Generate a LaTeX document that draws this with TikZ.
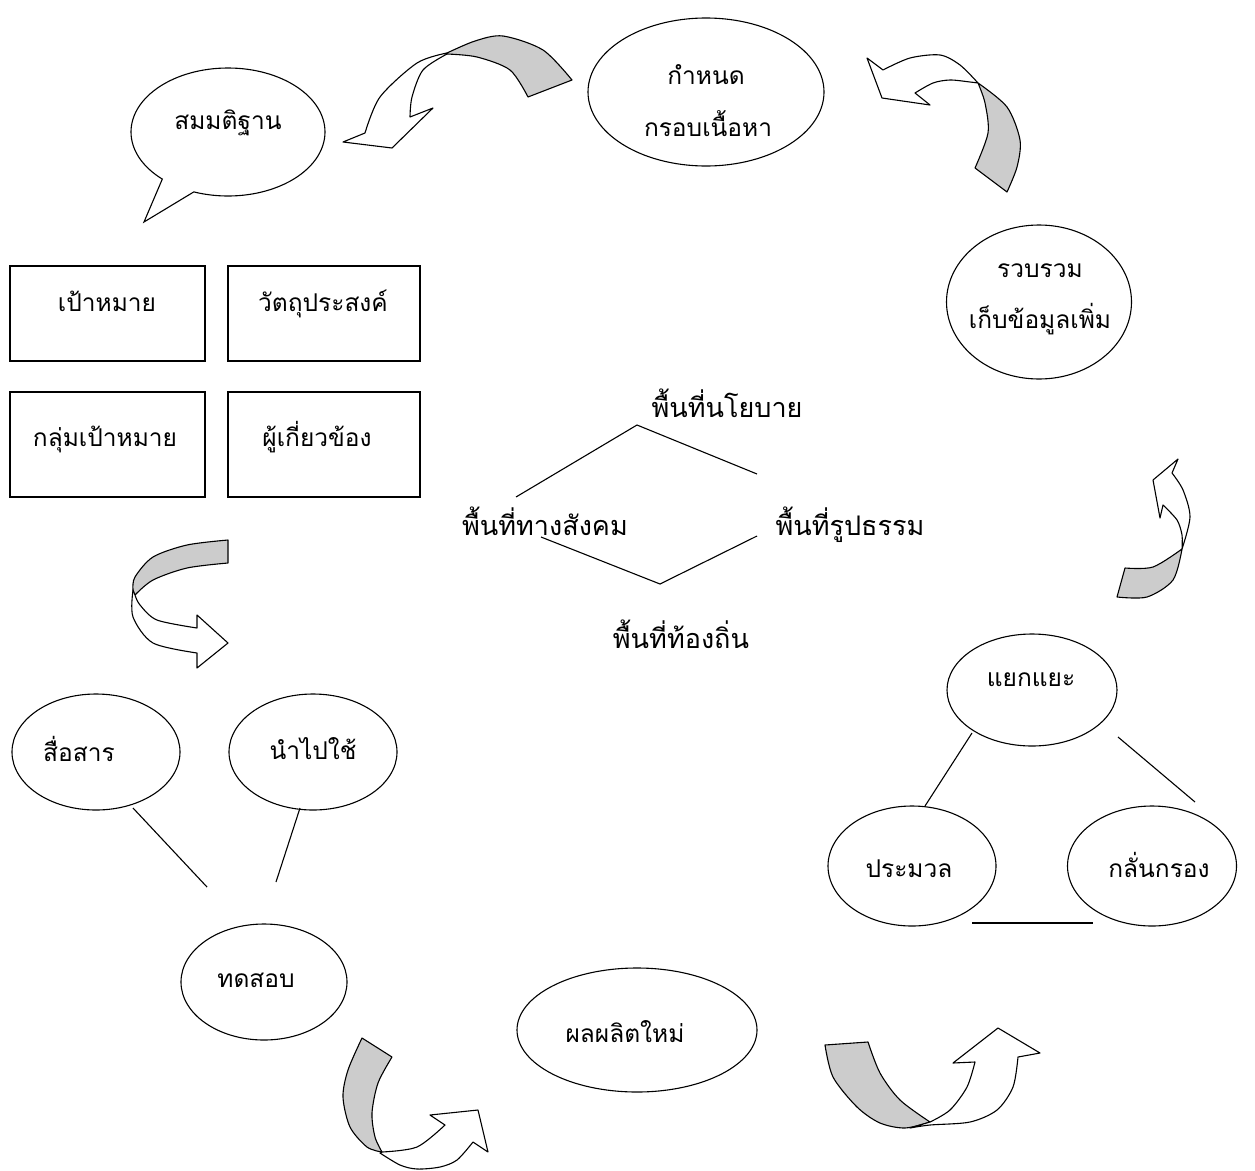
\documentclass[tikz,border=0pt]{standalone}
\usepackage{fontspec}
\newfontfamily\thai[Script=Thai]{Loma}
\usetikzlibrary{shapes.geometric,shapes.callouts}
\definecolor{band}{HTML}{CCCCCC}
\begin{document}
\begin{tikzpicture}[x=1pt,y=-1pt,line width=1.1pt,
  oval/.style={draw,ellipse,inner sep=0pt},
  rbox/.style={draw,rectangle,inner sep=0pt},
  lbl/.style={font=\thai\fontsize{24.5}{28}\selectfont,inner sep=0pt,anchor=base},
  big/.style={font=\thai\fontsize{27}{32}\selectfont,inner sep=0pt,anchor=base},
  backband/.style={draw,fill=band,line join=round},
  frontband/.style={draw,fill=white,line join=round}]
\path[use as bounding box] (0,0) rectangle (1255,1170);

% ---- shapes
\node[oval,minimum width=236,minimum height=148] (frame) at (706,92) {};
\node[draw,ellipse callout,inner sep=0pt,minimum width=194,minimum height=128,
      callout absolute pointer={(144,222)},callout pointer arc=22] (hyp) at (228,132) {};
\node[rbox,minimum width=195,minimum height=95] (goal) at (107.5,313.5) {};
\node[rbox,minimum width=192,minimum height=95] (obj) at (324,313.5) {};
\node[rbox,minimum width=195,minimum height=105] (grp) at (107.5,444.5) {};
\node[rbox,minimum width=192,minimum height=105] (stake) at (324,444.5) {};
\node[oval,minimum width=185,minimum height=154] (collect) at (1039,302) {};
\node[oval,minimum width=170,minimum height=112] (sep) at (1032,690) {};
\node[oval,minimum width=168,minimum height=120] (proc) at (912,866) {};
\node[oval,minimum width=169,minimum height=120] (filt) at (1152,866) {};
\node[oval,minimum width=168,minimum height=116] (comm) at (96,752) {};
\node[oval,minimum width=168,minimum height=116] (use) at (313,752) {};
\node[oval,minimum width=166,minimum height=116] (test) at (264,982) {};
\node[oval,minimum width=240,minimum height=124] (newp) at (637,1030) {};

% ---- texts
\node[lbl] (t1a) at (706,84) {กำหนด};
\node[lbl] (t1b) at (708,136) {กรอบเนื้อหา};
\node[lbl] (t2) at (228,129) {สมมติฐาน};
\node[lbl] (t3) at (107,311) {เป้าหมาย};
\node[lbl] (t4) at (323,311) {วัตถุประสงค์};
\node[lbl] (t5) at (105,446) {กลุ่มเป้าหมาย};
\node[lbl] (t6) at (317,446) {ผู้เกี่ยวข้อง};
\node[lbl] (t7a) at (1040,277) {รวบรวม};
\node[lbl] (t7b) at (1040,328) {เก็บข้อมูลเพิ่ม};
\node[lbl] (t8) at (1031,686) {แยกแยะ};
\node[lbl] (t9) at (909,877) {ประมวล};
\node[lbl] (t10) at (1159,877) {กลั่นกรอง};
\node[lbl] (t11) at (79,761) {สื่อสาร};
\node[lbl] (t12) at (313,759) {นำไปใช้};
\node[lbl] (t13) at (256,987) {ทดสอบ};
\node[lbl] (t14) at (625,1042) {ผลผลิตใหม่};

\node[big] (pT) at (727,417) {พื้นที่นโยบาย};
\node[big] (pL) at (545,535) {พื้นที่ทางสังคม};
\node[big] (pR) at (850,535) {พื้นที่รูปธรรม};
\node[big] (pB) at (681,648) {พื้นที่ท้องถิ่น};

% ---- diamond
\coordinate (d1) at (516,497); \coordinate (d2) at (637,425); \coordinate (d3) at (757,474);
\coordinate (d4) at (541,537); \coordinate (d5) at (660,584); \coordinate (d6) at (757,536);
\draw (d1) -- (d2) -- (d3);
\draw (d4) -- (d5) -- (d6);

% ---- connectors
\coordinate (c1a) at (1118,737); \coordinate (c1b) at (1195,802);
\coordinate (c2a) at (972,733);  \coordinate (c2b) at (925,806);
\coordinate (c3a) at (972,923);  \coordinate (c3b) at (1093,923);
\coordinate (c4a) at (133,808);  \coordinate (c4b) at (207,887);
\coordinate (c5a) at (300,808);  \coordinate (c5b) at (276,882);
\draw (c1a) -- (c1b);
\draw (c2a) -- (c2b);
\draw (c3a) -- (c3b);
\draw (c4a) -- (c4b);
\draw (c5a) -- (c5b);

% ---- curved block arrows
% 1 top-left
\draw[backband] plot[smooth] coordinates {(447,53) (475,41) (503,36) (543,50) (572,80)}
  -- (528,97) -- plot[smooth] coordinates {(528,97) (510,70) (477,57) (447,54)} -- cycle;
\draw[frontband] plot[smooth] coordinates {(447,53) (417,63) (380,97) (365,133)}
  -- (343,142) -- (392,148) -- (433,108) -- (410,117)
  -- plot[smooth] coordinates {(410,117) (412,97) (423,70) (447,54)} -- cycle;
% 2 top-right
\draw[backband] plot[smooth] coordinates {(978,83) (1007,107) (1020,140) (1017,167) (1007,192)}
  -- (975,168) -- plot[smooth] coordinates {(975,168) (988,133) (985,103) (978,83)} -- cycle;
\draw[frontband] plot[smooth] coordinates {(978,83) (960,65) (940,55) (910,58) (883,70)}
  -- (867,58) -- (882,98) -- (930,105) -- (915,93)
  -- plot[smooth] coordinates {(915,93) (933,83) (950,80) (970,82) (978,83)} -- cycle;
% 3 right
\draw[backband] (1125,568) -- (1117,597)
  -- plot[smooth] coordinates {(1117,597) (1147,597) (1173,580) (1182,549)}
  -- plot[smooth] coordinates {(1182,549) (1153,567) (1125,568)} -- cycle;
\draw[frontband] plot[smooth] coordinates {(1182,549) (1190,517) (1183,490) (1172,473)}
  -- (1178,459) -- (1153,480) -- (1160,518) -- (1163,505)
  -- plot[smooth] coordinates {(1163,505) (1177,520) (1182,535) (1182,549)} -- cycle;
% 4 left
\draw[backband] (228,540) -- (228,563)
  -- plot[smooth] coordinates {(228,563) (187,568) (153,580) (135,595)}
  -- plot[smooth] coordinates {(135,595) (133,590) (135,577) (153,557) (187,545) (228,540)} -- cycle;
\draw[frontband] plot[smooth] coordinates {(133,590) (133,617) (153,643) (197,653)}
  -- (197,668) -- (228,643) -- (197,615) -- (197,628)
  -- plot[smooth] coordinates {(197,628) (157,620) (140,605) (135,595)} -- cycle;
% 5 bottom-left
\draw[backband] (362,1038) -- (392,1057)
  -- plot[smooth] coordinates {(392,1057) (378,1083) (372,1113) (375,1137) (382,1152)}
  -- plot[smooth] coordinates {(382,1152) (367,1147) (350,1127) (343,1097) (348,1070) (362,1038)} -- cycle;
\draw[frontband] plot[smooth] coordinates {(382,1152) (417,1147) (445,1125)}
  -- (430,1115) -- (478,1110) -- (488,1152) -- (473,1142)
  -- plot[smooth] coordinates {(473,1142) (457,1160) (440,1167) (417,1169) (400,1165) (380,1153)} -- cycle;
% 6 bottom-right
\draw[backband] (825,1045) -- (868,1042)
  -- plot[smooth] coordinates {(868,1042) (880,1073) (900,1100) (930,1122)}
  -- plot[smooth] coordinates {(930,1122) (905,1128) (880,1123) (857,1107) (833,1077) (825,1045)} -- cycle;
\draw[frontband] plot[smooth] coordinates {(930,1122) (950,1110) (967,1087) (975,1062)}
  -- (953,1063) -- (998,1028) -- (1040,1053) -- (1018,1057)
  -- plot[smooth] coordinates {(1018,1057) (1013,1087) (997,1110) (970,1122) (930,1125) (910,1128)} -- cycle;
\end{tikzpicture}
\end{document}
